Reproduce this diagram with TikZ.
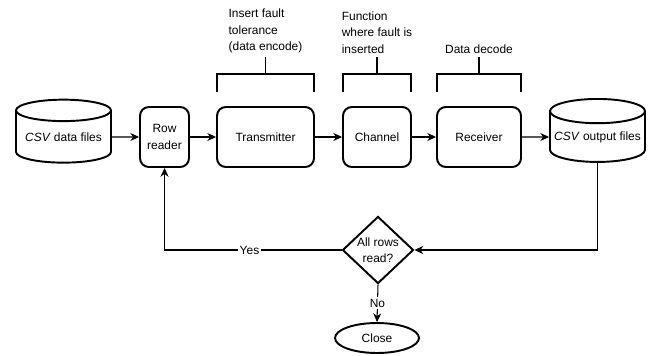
\documentclass[tikz,border=0pt]{standalone}
\usepackage{fontspec}
\setmainfont{Liberation Sans}
\usetikzlibrary{arrows.meta,calc,shapes.geometric}
\def\faultbracket(#1)(#2){\draw[bracket] ($(#1.north west)+(1,-14)$) -- ($(#1.north west)+(1,-32)$) -- ($(#1.north east)+(-1,-32)$) -- ($(#1.north east)+(-1,-14)$);
	\draw[bracket] ($(#1.north)+(0,-32)$) -- ($(#1.north)+(0,-49)$) coordinate (#2);}

\begin{document}
\begin{tikzpicture}[x=0.02cm, y=-0.02cm, font=\fontsize{6.8pt}{9.4pt}\selectfont,
	box/.style={draw, line width=1.1pt, rounded corners=5pt, minimum height=1.2cm, inner sep=0pt, align=center},
	store/.style={draw, line width=1.1pt, cylinder, shape border rotate=90, aspect=0.28, minimum width=1.9cm, minimum height=1.26cm, inner sep=0pt},
	decide/.style={draw, line width=1.1pt, diamond, minimum width=1.42cm, minimum height=1.3cm, inner sep=0pt, align=center},
	stopper/.style={draw, line width=1.1pt, ellipse, minimum width=1.68cm, minimum height=0.6cm},
	note/.style={align=left, anchor=south, inner sep=2pt},
	flow/.style={-{Stealth[length=5pt,width=4.6pt]}, line width=0.6pt},
	bracket/.style={line width=1.1pt}]
		%%%%% START %%%%%
		\useasboundingbox (0,0) rectangle (655,355);
		
		\node[store] (csvin) at (63.5,137) {\textit{CSV} data files};
		\node[box, minimum width=0.98cm] (reader) at (164.5,137) {Row\\reader};
		\node[box, minimum width=1.94cm] (tx) at (265.5,137) {Transmitter};
		\node[box, minimum width=1.36cm] (chan) at (377,137) {Channel};
		\node[box, minimum width=1.68cm] (rx) at (479,137) {Receiver};
		\node[store] (csvout) at (597.5,137) {\textit{CSV} output files};
		
		\node[decide] (dec) at (378,250) {All rows\\read?};
		\node[stopper] (close) at (377,338) {Close};
		
		\faultbracket(tx)(txtop);
		\faultbracket(chan)(chantop);
		\faultbracket(rx)(rxtop);
		\node[note] (txnote) at (txtop) {Insert fault\\tolerance\\(data encode)};
		\node[note] (channote) at (chantop) {Function\\where fault is\\inserted};
		\node[note] (rxnote) at (rxtop) {Data decode};
		
		\draw[flow] (csvin) -- (reader);
		\draw[flow] (reader) -- (tx);
		\draw[flow] (tx) -- (chan);
		\draw[flow] (chan) -- (rx);
		\draw[flow] (rx) -- (csvout);
		
		\draw[flow] (csvout.south) |- (dec.east);
		\draw[flow] (dec.west) -| node[pos=0.26, fill=white, inner sep=1pt] (yes) {Yes} (reader.south);
		\draw[flow] (dec.south) -- node[fill=white, inner sep=1pt] (no) {No} (close.north);
		
		%%%%% END %%%%%
	\end{tikzpicture}
\end{document}
